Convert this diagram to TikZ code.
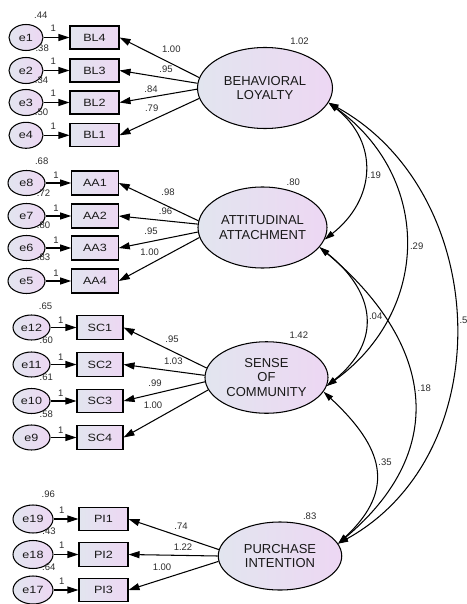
\documentclass[tikz,border=0pt]{standalone}
\usepackage{fontspec}
\setmainfont{Liberation Sans}
\usepackage{graphicx}
\usetikzlibrary{arrows.meta,shapes.geometric}
\definecolor{fillL}{RGB}{226,229,239}
\definecolor{fillR}{RGB}{237,215,243}
\definecolor{txt}{RGB}{25,25,25}
\definecolor{numc}{RGB}{45,45,45}
\newcommand{\hs}[1]{\scalebox{1.2}[1]{#1}}
\begin{document}
\begin{tikzpicture}[x=1pt,y=1pt,
  lat/.style={ellipse,draw=black,line width=1.05pt,left color=fillL,right color=fillR,inner sep=0pt,align=center,font=\fontsize{13}{14.5}\selectfont,text=txt},
  err/.style={ellipse,draw=black,line width=1.05pt,left color=fillL,right color=fillR,inner sep=0pt,font=\fontsize{10.5}{12}\selectfont,text=txt},
  obs/.style={rectangle,draw=black,line width=1.05pt,left color=fillL,right color=fillR,inner sep=0pt,font=\fontsize{10.5}{12}\selectfont,text=txt},
  eBL/.style={err,minimum width=34pt,minimum height=26pt},
  eAA/.style={err,minimum width=37pt,minimum height=25pt},
  eSC/.style={err,minimum width=37pt,minimum height=25pt},
  ePI/.style={err,minimum width=40pt,minimum height=28pt},
  oBL/.style={obs,minimum width=49pt,minimum height=23pt},
  oAA/.style={obs,minimum width=46.5pt,minimum height=24pt},
  oSC/.style={obs,minimum width=46pt,minimum height=23.5pt},
  oPI/.style={obs,minimum width=49pt,minimum height=23.5pt},
  num/.style={font=\fontsize{9.5}{10}\selectfont,text=numc,inner sep=0pt},
  arr/.style={line width=1.05pt,-{Triangle[length=11pt,width=7pt]}},
  cov/.style={line width=1.05pt,{Triangle[length=10pt,width=6pt]}-{Triangle[length=10pt,width=6pt]}},
]
\path[use as bounding box,fill=white] (0,0) rectangle (466,-604);

% ---------- latent variables ----------
\node[lat,minimum width=135pt,minimum height=81pt] (BL) at (265,-88) {BEHAVIORAL\\LOYALTY};
\node[lat,minimum width=129pt,minimum height=81pt] (AA) at (262.5,-227.5) {ATTITUDINAL\\ATTACHMENT};
\node[lat,minimum width=123pt,minimum height=71.5pt] (SC) at (266.5,-377.5) {SENSE\\OF\\COMMUNITY};
\node[lat,minimum width=123.5pt,minimum height=68pt] (PI) at (280,-556) {PURCHASE\\INTENTION};

% ---------- BL group ----------
\node[eBL] (e1) at (26,-37.5) {\hs{e1}};
\node[eBL] (e2) at (26,-70.5) {\hs{e2}};
\node[eBL] (e3) at (26,-102.5) {\hs{e3}};
\node[eBL] (e4) at (26,-135.3) {\hs{e4}};
\node[oBL] (BL4) at (94.5,-37.5) {\hs{BL4}};
\node[oBL] (BL3) at (94.5,-70.5) {\hs{BL3}};
\node[oBL] (BL2) at (94.5,-102.5) {\hs{BL2}};
\node[oBL] (BL1) at (94.5,-135.3) {\hs{BL1}};

% ---------- AA group ----------
\node[eAA] (e8) at (26.5,-183) {\hs{e8}};
\node[eAA] (e7) at (26.5,-216) {\hs{e7}};
\node[eAA] (e6) at (26.5,-248) {\hs{e6}};
\node[eAA] (e5) at (26.5,-281) {\hs{e5}};
\node[oAA] (AA1) at (95,-183) {\hs{AA1}};
\node[oAA] (AA2) at (95,-216) {\hs{AA2}};
\node[oAA] (AA3) at (95,-248) {\hs{AA3}};
\node[oAA] (AA4) at (95,-281) {\hs{AA4}};

% ---------- SC group ----------
\node[eSC] (e12) at (31.5,-327.5) {\hs{e12}};
\node[eSC] (e11) at (31.5,-364.5) {\hs{e11}};
\node[eSC] (e10) at (31.5,-401) {\hs{e10}};
\node[eSC] (e9) at (31.5,-437.5) {\hs{e9}};
\node[oSC] (SC1) at (100,-327.5) {\hs{SC1}};
\node[oSC] (SC2) at (100,-364.5) {\hs{SC2}};
\node[oSC] (SC3) at (100,-401) {\hs{SC3}};
\node[oSC] (SC4) at (100,-437.5) {\hs{SC4}};

% ---------- PI group ----------
\node[ePI] (e19) at (33,-519) {\hs{e19}};
\node[ePI] (e18) at (33,-554.5) {\hs{e18}};
\node[ePI] (e17) at (33,-590) {\hs{e17}};
\node[oPI] (PI1) at (103.5,-519) {\hs{PI1}};
\node[oPI] (PI2) at (103.5,-554.5) {\hs{PI2}};
\node[oPI] (PI3) at (103.5,-590) {\hs{PI3}};

% ---------- error -> indicator arrows ----------
\foreach \a/\b in {e1/BL4,e2/BL3,e3/BL2,e4/BL1,e8/AA1,e7/AA2,e6/AA3,e5/AA4,
                   e12/SC1,e11/SC2,e10/SC3,e9/SC4,e19/PI1,e18/PI2,e17/PI3}
  \draw[arr] (\a.east) -- (\b.west);

% ---------- loadings ----------
\draw[arr] (BL.171) -- (BL4.east);
\draw[arr] (BL.176) -- (BL3.east);
\draw[arr] (BL.181) -- (BL2.east);
\draw[arr] (BL.189) -- (BL1.east);
\draw[arr] (AA.174) -- (AA1.east);
\draw[arr] (AA.177) -- (AA2.east);
\draw[arr] (AA.184) -- (AA3.east);
\draw[arr] (AA.189) -- (AA4.east);
\draw[arr] (SC.171) -- (SC1.east);
\draw[arr] (SC.178) -- (SC2.east);
\draw[arr] (SC.184) -- (SC3.east);
\draw[arr] (SC.192) -- (SC4.east);
\draw[arr] (PI.174) -- (PI1.east);
\draw[arr] (PI.180) -- (PI2.east);
\draw[arr] (PI.185) -- (PI3.east);

% ---------- covariances ----------
\draw[cov] (BL.-13) .. controls +(51,-40) and +(51,40) .. (AA.-11);
\draw[cov] (BL.-13) .. controls +(104,-75) and +(104,75) .. (SC.-8);
\draw[cov] (BL.-13) .. controls +(163,-90) and +(163,90) .. (PI.12);
\draw[cov] (AA.-19) .. controls +(56,-45) and +(56,45) .. (SC.-8);
\draw[cov] (AA.-19) .. controls +(113,-95) and +(113,95) .. (PI.12);
\draw[cov] (SC.-14) .. controls +(59,-55) and +(59,55) .. (PI.12);

% ---------- "1" labels ----------
\node[num] (o1) at (53.3,-28) {1};
\node[num] (o2) at (53.3,-61) {1};
\node[num] (o3) at (53.3,-93) {1};
\node[num] (o4) at (53.3,-126) {1};
\node[num] (o5) at (56,-175) {1};
\node[num] (o6) at (56,-208) {1};
\node[num] (o7) at (56,-240) {1};
\node[num] (o8) at (56,-273) {1};
\node[num] (o9) at (60.7,-320) {1};
\node[num] (o10) at (60.7,-357) {1};
\node[num] (o11) at (60.7,-393.5) {1};
\node[num] (o12) at (60.7,-430) {1};
\node[num] (o13) at (61.7,-510) {1};
\node[num] (o14) at (61.7,-545.5) {1};
\node[num] (o15) at (61.7,-581) {1};

% ---------- error variances ----------
\node[num] (v1) at (40.8,-15.5) {.44};
\node[num] (v2) at (42.2,-48) {.38};
\node[num] (v3) at (41.5,-80.3) {.34};
\node[num] (v4) at (41.5,-112.5) {.50};
\node[num] (v8) at (41.7,-161) {.68};
\node[num] (v7) at (43.5,-192.7) {.72};
\node[num] (v6) at (43.5,-225) {.80};
\node[num] (v5) at (43.5,-257.3) {.83};
\node[num] (v12) at (45.5,-306) {.65};
\node[num] (v11) at (46.3,-340.7) {.60};
\node[num] (v10) at (46.3,-377.3) {.61};
\node[num] (v9) at (46.3,-414) {.58};
\node[num] (v19) at (48.3,-494.5) {.96};
\node[num] (v18) at (49,-531) {.43};
\node[num] (v17) at (48.8,-567) {.64};

% ---------- loadings labels ----------
\node[num] (w1) at (171.3,-49.3) {1.00};
\node[num] (w2) at (166,-69.7) {.95};
\node[num] (w3) at (151,-89.7) {.84};
\node[num] (w4) at (151.7,-108.7) {.79};
\node[num] (w5) at (168,-192.7) {.98};
\node[num] (w6) at (165.5,-211.7) {.96};
\node[num] (w7) at (151,-231.7) {.95};
\node[num] (w8) at (149.7,-252) {1.00};
\node[num] (w9) at (172,-339.7) {.95};
\node[num] (w10) at (173.3,-361) {1.03};
\node[num] (w11) at (155,-383) {.99};
\node[num] (w12) at (153,-405.5) {1.00};
\node[num] (w13) at (181,-525.8) {.74};
\node[num] (w14) at (183,-547.5) {1.22};
\node[num] (w15) at (162,-567.5) {1.00};

% ---------- latent variances ----------
\node[num] (u1) at (299.5,-41) {1.02};
\node[num] (u2) at (293.3,-182.5) {.80};
\node[num] (u3) at (298.8,-335) {1.42};
\node[num] (u4) at (309.7,-516.3) {.83};

% ---------- covariance labels ----------
\node[num] (c1) at (374.3,-175) {.19};
\node[num] (c2) at (416.7,-246.7) {.29};
\node[num,anchor=west] (c3) at (459.3,-320) {.5};
\node[num] (c4) at (375.7,-316) {.04};
\node[num] (c5) at (424.3,-388.3) {.18};
\node[num] (c6) at (385,-462.7) {.35};
\end{tikzpicture}
\end{document}
